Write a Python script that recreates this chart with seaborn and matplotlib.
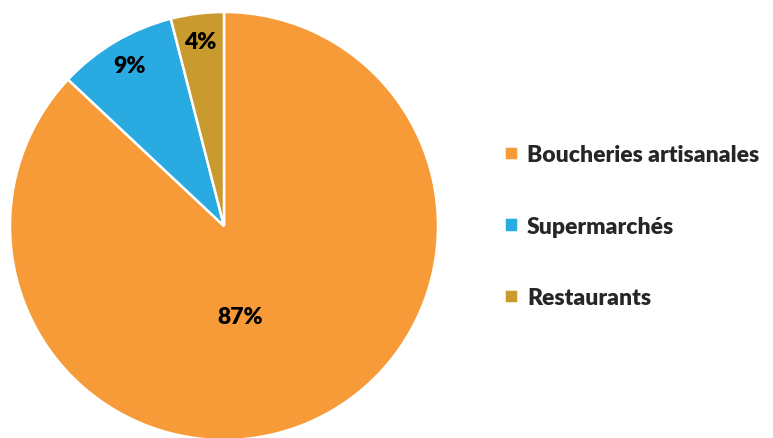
import numpy as np
import matplotlib
matplotlib.use("Agg")
import matplotlib.pyplot as plt
import seaborn as sns

# data
categories = ["Boucheries artisanales", "Supermarchés", "Restaurants"]
shares = [87, 9, 4]
colors = ["#F79A38", "#29ABE2", "#C99A2E"]

sns.set_theme(style="white")
plt.rcParams['font.family'] = ['Lato', 'DejaVu Sans']

fig = plt.figure(figsize=(7.73, 4.39), dpi=100)
# pie axes placed in pixels: x 10..438, y 13..441 (from top)
ax = fig.add_axes([10/773, (439-441)/439, 428/773, 428/439])

wedges, texts, autotexts = ax.pie(
    shares, colors=sns.color_palette(colors), startangle=90, counterclock=False,
    autopct='%d%%', pctdistance=0.87,
    wedgeprops=dict(edgecolor='white', linewidth=1.8),
    textprops=dict(fontsize=16.5, fontweight='heavy', color='black'))
ax.set_aspect('equal')
ax.set_xlim(-1, 1)
ax.set_ylim(-1, 1)

# big slice label sits nearer the centre
ang = np.deg2rad(-80)
autotexts[0].set_position((0.43*np.cos(ang), 0.43*np.sin(ang)))

ax.legend(wedges, categories, loc='center left', bbox_to_anchor=(504/773, (439-227)/439),
          bbox_transform=fig.transFigure, frameon=False, borderaxespad=0,
          prop=dict(size=16.5, weight='heavy'), handlelength=0.6, handleheight=0.6,
          handletextpad=0.4, labelspacing=2.2, borderpad=0)

fig.savefig("out.png", dpi=100)
